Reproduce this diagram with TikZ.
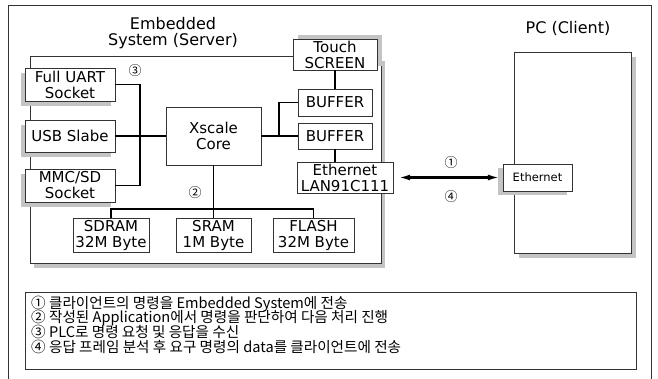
\documentclass[tikz,border=0pt]{standalone}
\usepackage{fontspec}
\setmainfont{DejaVu Sans}
\newfontfamily\kofont{Noto Sans CJK KR}
\usetikzlibrary{arrows.meta,shadows}
\definecolor{EdgeGray}{HTML}{333333}
\definecolor{ShadowGray}{HTML}{C4C4C4}

\begin{document}
\begin{tikzpicture}[x=1pt, y=-1pt,
    box/.style={draw=EdgeGray, fill=white, inner sep=0pt, align=center,
      font=\fontsize{15}{16}\selectfont},
    dropgray/.style 2 args={drop shadow={shadow xshift=#1, shadow yshift=#2,
      opacity=1, fill=ShadowGray}},
    wire/.style={draw=black, line width=1.2pt},
    num/.style={inner sep=0pt, font=\kofont\fontsize{13}{13}\selectfont},
    legend/.style={inner sep=0pt, anchor=base west, font=\kofont\fontsize{14.6}{15}\selectfont},
    dbl/.style={{Latex[length=12pt,width=6pt]}-{Latex[length=12pt,width=6pt]},
      line width=2.2pt, draw=black, shorten <=5pt, shorten >=3pt}
  ]
    \useasboundingbox (0,0) rectangle (658,379);
    \draw[draw=EdgeGray, line width=0.9pt] (8,379) -- (8,5) -- (651,5) -- (651,379);

    % embedded system
    \node[box, dropgray={4pt}{-5pt}, minimum width=351pt, minimum height=207pt] (emb) at (205.5,159.5) {};
    \node[inner sep=0pt, align=center, font=\fontsize{16}{16}\selectfont] (embtitle) at (173,33) {Embedded\\System (Server)};

    \node[box, dropgray={-4pt}{-5pt}, minimum width=90pt, minimum height=33pt] (uart) at (70,84.5) {Full UART\\Socket};
    \node[box, dropgray={-4pt}{-5pt}, minimum width=90pt, minimum height=32pt] (usb) at (70,136) {USB Slabe};
    \node[box, dropgray={-4pt}{-5pt}, minimum width=90pt, minimum height=33pt] (mmc) at (70,185.5) {MMC/SD\\Socket};
    \node[box, minimum width=95pt, minimum height=58pt] (core) at (213.5,136) {Xscale\\Core};
    \node[box, minimum width=76pt, minimum height=34pt] (sdram) at (111,235) {SDRAM\\32M Byte};
    \node[box, minimum width=75pt, minimum height=34pt] (sram) at (213.5,235) {SRAM\\1M Byte};
    \node[box, minimum width=81pt, minimum height=34pt] (flash) at (313.5,235) {FLASH\\32M Byte};
    \node[box, dropgray={5pt}{4pt}, minimum width=84pt, minimum height=31pt] (touch) at (335,54.5) {Touch\\SCREEN};
    \node[box, minimum width=74pt, minimum height=27pt] (buf1) at (335,102.5) {BUFFER};
    \node[box, minimum width=74pt, minimum height=26pt] (buf2) at (335,136) {BUFFER};
    \node[box, minimum width=96pt, minimum height=31pt] (lan) at (345,177.5) {Ethernet\\LAN91C111};

    % pc side
    \node[inner sep=0pt, font=\fontsize{16}{16}\selectfont] (pctitle) at (568,28) {PC (Client)};
    \node[box, dropgray={5pt}{-5pt}, minimum width=117pt, minimum height=201pt] (pc) at (572.5,152.5) {};
    \node[box, dropgray={-5pt}{-4pt}, minimum width=69pt, minimum height=27pt,
      font=\fontsize{11.5}{12}\selectfont] (pceth) at (537.5,177.5) {Ethernet};

    % wiring
    \coordinate (lbusT) at (140,84.5);
    \coordinate (lbusB) at (140,185.5);
    \draw[wire] (uart.east) -- (lbusT) -- (lbusB) -- (mmc.east);
    \draw[wire] (usb) -- (core);
    \coordinate (rbus) at (279,136);
    \draw[wire] (core) -- (buf2);
    \draw[wire] (buf1.west) -| (rbus);
    \draw[wire] (touch) -- (buf1);
    \draw[wire] (buf2.south) -- (buf2.south |- lan.north);
    \coordinate (mbus) at (213.5,209);
    \draw[wire] (core) -- (sram);
    \draw[wire] (sdram.north) |- (mbus) -| (flash.north);
    \draw[dbl] (lan.east) -- (pceth.west);

    \node[num] (n3) at (135,71) {③};
    \node[num] (n2) at (195,193) {②};
    \node[num] (n1) at (451,163) {①};
    \node[num] (n4) at (451,197) {④};

    % legend
    \node[box, minimum width=611pt, minimum height=77pt] (note) at (330.5,330.5) {};
    \node[legend] (line1) at (31,308) {① 클라이언트의 명령을 Embedded System에 전송};
    \node[legend] (line2) at (31,322.7) {② 작성된 Application에서 명령을 판단하여 다음 처리 진행};
    \node[legend] (line3) at (31,337.4) {③ PLC로 명령 요청 및 응답을 수신};
    \node[legend] (line4) at (31,352) {④ 응답 프레임 분석 후 요구 명령의 data를 클라이언트에 전송};
  \end{tikzpicture}
\end{document}
